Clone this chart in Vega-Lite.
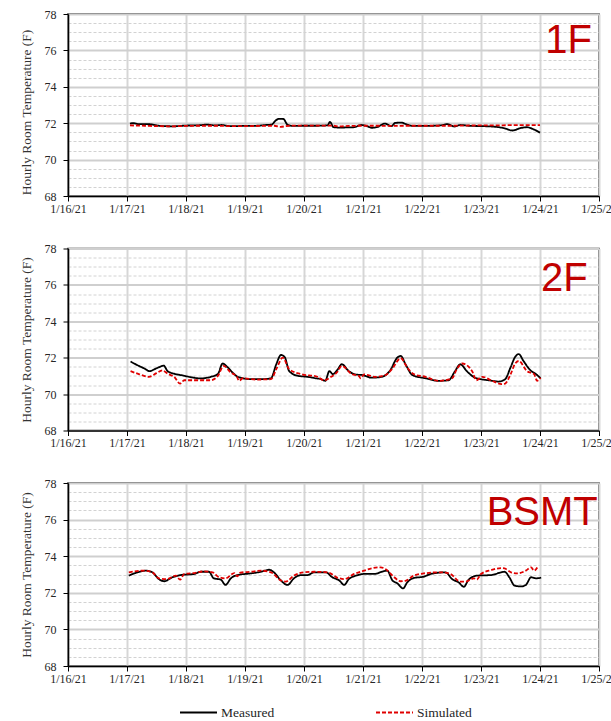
{
  "$schema": "https://vega.github.io/schema/vega-lite/v6.json",
  "background": "white",
  "padding": {"left": 18, "top": 7, "right": 0, "bottom": 0},
  "bounds": "flush",
  "spacing": 52.5,
  "resolve": {"legend": {"color": "independent", "strokeDash": "independent"}},
  "config": {
    "font": "Liberation Serif",
    "view": {"stroke": "#262626", "strokeWidth": 1.5},
    "axis": {
      "domainColor": "#000000", "domainWidth": 1.5,
      "tickColor": "#000000", "tickWidth": 1, "tickSize": 5,
      "labelFont": "Liberation Serif", "labelFontSize": 12, "labelColor": "#262626",
      "titleFont": "Liberation Serif", "titleFontSize": 13.5, "titleFontWeight": "normal", "titleColor": "#333333",
      "labelFlush": false, "labelOverlap": false
    }
  },
  "datasets": {
    "f1": [
      {"day":17.05,"series":"Measured","temp":71.98},{"day":17.1,"series":"Measured","temp":72.0},{"day":17.2,"series":"Measured","temp":71.95},{"day":17.4,"series":"Measured","temp":71.94},{"day":17.5,"series":"Measured","temp":71.88},{"day":17.6,"series":"Measured","temp":71.84},{"day":17.8,"series":"Measured","temp":71.83},{"day":18.0,"series":"Measured","temp":71.87},{"day":18.2,"series":"Measured","temp":71.88},{"day":18.35,"series":"Measured","temp":71.92},{"day":18.5,"series":"Measured","temp":71.88},{"day":18.6,"series":"Measured","temp":71.9},{"day":18.75,"series":"Measured","temp":71.84},{"day":19.0,"series":"Measured","temp":71.85},{"day":19.2,"series":"Measured","temp":71.86},{"day":19.35,"series":"Measured","temp":71.9},{"day":19.45,"series":"Measured","temp":71.92},{"day":19.52,"series":"Measured","temp":72.15},{"day":19.58,"series":"Measured","temp":72.24},{"day":19.65,"series":"Measured","temp":72.23},{"day":19.72,"series":"Measured","temp":71.92},{"day":19.8,"series":"Measured","temp":71.85},{"day":20.0,"series":"Measured","temp":71.86},{"day":20.2,"series":"Measured","temp":71.86},{"day":20.4,"series":"Measured","temp":71.88},{"day":20.44,"series":"Measured","temp":72.07},{"day":20.5,"series":"Measured","temp":71.78},{"day":20.6,"series":"Measured","temp":71.76},{"day":20.75,"series":"Measured","temp":71.77},{"day":20.85,"series":"Measured","temp":71.78},{"day":20.97,"series":"Measured","temp":71.9},{"day":21.05,"series":"Measured","temp":71.86},{"day":21.15,"series":"Measured","temp":71.75},{"day":21.25,"series":"Measured","temp":71.8},{"day":21.37,"series":"Measured","temp":71.98},{"day":21.48,"series":"Measured","temp":71.84},{"day":21.55,"series":"Measured","temp":72.02},{"day":21.65,"series":"Measured","temp":72.03},{"day":21.75,"series":"Measured","temp":71.92},{"day":21.85,"series":"Measured","temp":71.85},{"day":22.0,"series":"Measured","temp":71.85},{"day":22.2,"series":"Measured","temp":71.86},{"day":22.35,"series":"Measured","temp":71.9},{"day":22.43,"series":"Measured","temp":71.95},{"day":22.55,"series":"Measured","temp":71.82},{"day":22.65,"series":"Measured","temp":71.9},{"day":22.8,"series":"Measured","temp":71.86},{"day":23.0,"series":"Measured","temp":71.84},{"day":23.17,"series":"Measured","temp":71.82},{"day":23.3,"series":"Measured","temp":71.78},{"day":23.4,"series":"Measured","temp":71.72},{"day":23.53,"series":"Measured","temp":71.6},{"day":23.68,"series":"Measured","temp":71.74},{"day":23.78,"series":"Measured","temp":71.78},{"day":23.88,"series":"Measured","temp":71.68},{"day":24.0,"series":"Measured","temp":71.48},
      {"day":17.05,"series":"Simulated","temp":71.88},{"day":17.3,"series":"Simulated","temp":71.86},{"day":17.5,"series":"Simulated","temp":71.84},{"day":17.75,"series":"Simulated","temp":71.83},{"day":18.0,"series":"Simulated","temp":71.85},{"day":18.25,"series":"Simulated","temp":71.86},{"day":18.5,"series":"Simulated","temp":71.86},{"day":18.75,"series":"Simulated","temp":71.84},{"day":19.0,"series":"Simulated","temp":71.84},{"day":19.25,"series":"Simulated","temp":71.85},{"day":19.5,"series":"Simulated","temp":71.86},{"day":19.6,"series":"Simulated","temp":71.8},{"day":19.75,"series":"Simulated","temp":71.86},{"day":20.0,"series":"Simulated","temp":71.87},{"day":20.25,"series":"Simulated","temp":71.87},{"day":20.5,"series":"Simulated","temp":71.86},{"day":20.6,"series":"Simulated","temp":71.82},{"day":20.75,"series":"Simulated","temp":71.85},{"day":21.0,"series":"Simulated","temp":71.86},{"day":21.25,"series":"Simulated","temp":71.86},{"day":21.5,"series":"Simulated","temp":71.85},{"day":21.75,"series":"Simulated","temp":71.86},{"day":22.0,"series":"Simulated","temp":71.86},{"day":22.25,"series":"Simulated","temp":71.86},{"day":22.5,"series":"Simulated","temp":71.86},{"day":22.75,"series":"Simulated","temp":71.87},{"day":23.0,"series":"Simulated","temp":71.88},{"day":23.25,"series":"Simulated","temp":71.88},{"day":23.5,"series":"Simulated","temp":71.89},{"day":23.75,"series":"Simulated","temp":71.89},{"day":24.0,"series":"Simulated","temp":71.89}
    ],
    "f2": [
      {"day":17.06,"series":"Measured","temp":71.79},{"day":17.2,"series":"Measured","temp":71.55},{"day":17.3,"series":"Measured","temp":71.4},{"day":17.38,"series":"Measured","temp":71.26},{"day":17.5,"series":"Measured","temp":71.42},{"day":17.56,"series":"Measured","temp":71.5},{"day":17.62,"series":"Measured","temp":71.57},{"day":17.69,"series":"Measured","temp":71.26},{"day":17.8,"series":"Measured","temp":71.12},{"day":17.92,"series":"Measured","temp":71.04},{"day":18.1,"series":"Measured","temp":70.92},{"day":18.25,"series":"Measured","temp":70.86},{"day":18.42,"series":"Measured","temp":70.95},{"day":18.54,"series":"Measured","temp":71.1},{"day":18.62,"series":"Measured","temp":71.68},{"day":18.71,"series":"Measured","temp":71.46},{"day":18.8,"series":"Measured","temp":71.15},{"day":18.88,"series":"Measured","temp":70.95},{"day":19.1,"series":"Measured","temp":70.82},{"day":19.3,"series":"Measured","temp":70.82},{"day":19.44,"series":"Measured","temp":70.87},{"day":19.53,"series":"Measured","temp":71.64},{"day":19.61,"series":"Measured","temp":72.15},{"day":19.67,"series":"Measured","temp":72.05},{"day":19.75,"series":"Measured","temp":71.26},{"day":19.9,"series":"Measured","temp":71.0},{"day":20.06,"series":"Measured","temp":70.95},{"day":20.2,"series":"Measured","temp":70.87},{"day":20.29,"series":"Measured","temp":70.82},{"day":20.36,"series":"Measured","temp":70.73},{"day":20.43,"series":"Measured","temp":71.26},{"day":20.49,"series":"Measured","temp":71.1},{"day":20.57,"series":"Measured","temp":71.35},{"day":20.64,"series":"Measured","temp":71.64},{"day":20.76,"series":"Measured","temp":71.26},{"day":20.87,"series":"Measured","temp":71.08},{"day":21.0,"series":"Measured","temp":71.04},{"day":21.15,"series":"Measured","temp":70.9},{"day":21.32,"series":"Measured","temp":70.95},{"day":21.46,"series":"Measured","temp":71.3},{"day":21.58,"series":"Measured","temp":72.0},{"day":21.64,"series":"Measured","temp":72.1},{"day":21.72,"series":"Measured","temp":71.64},{"day":21.84,"series":"Measured","temp":71.04},{"day":22.06,"series":"Measured","temp":70.87},{"day":22.28,"series":"Measured","temp":70.73},{"day":22.45,"series":"Measured","temp":70.76},{"day":22.56,"series":"Measured","temp":71.26},{"day":22.65,"series":"Measured","temp":71.64},{"day":22.76,"series":"Measured","temp":71.26},{"day":22.9,"series":"Measured","temp":70.9},{"day":23.13,"series":"Measured","temp":70.76},{"day":23.3,"series":"Measured","temp":70.69},{"day":23.41,"series":"Measured","temp":70.82},{"day":23.5,"series":"Measured","temp":71.46},{"day":23.58,"series":"Measured","temp":72.05},{"day":23.64,"series":"Measured","temp":72.2},{"day":23.72,"series":"Measured","temp":71.82},{"day":23.84,"series":"Measured","temp":71.3},{"day":23.93,"series":"Measured","temp":71.1},{"day":24.01,"series":"Measured","temp":70.87},
      {"day":17.06,"series":"Simulated","temp":71.26},{"day":17.2,"series":"Simulated","temp":71.1},{"day":17.37,"series":"Simulated","temp":70.95},{"day":17.5,"series":"Simulated","temp":71.15},{"day":17.6,"series":"Simulated","temp":71.3},{"day":17.7,"series":"Simulated","temp":71.1},{"day":17.8,"series":"Simulated","temp":70.95},{"day":17.9,"series":"Simulated","temp":70.58},{"day":17.97,"series":"Simulated","temp":70.76},{"day":18.2,"series":"Simulated","temp":70.76},{"day":18.42,"series":"Simulated","temp":70.76},{"day":18.54,"series":"Simulated","temp":71.0},{"day":18.64,"series":"Simulated","temp":71.55},{"day":18.76,"series":"Simulated","temp":71.18},{"day":18.86,"series":"Simulated","temp":70.97},{"day":18.9,"series":"Simulated","temp":70.73},{"day":18.96,"series":"Simulated","temp":70.87},{"day":19.2,"series":"Simulated","temp":70.8},{"day":19.44,"series":"Simulated","temp":70.82},{"day":19.53,"series":"Simulated","temp":71.37},{"day":19.64,"series":"Simulated","temp":72.0},{"day":19.75,"series":"Simulated","temp":71.37},{"day":19.95,"series":"Simulated","temp":71.1},{"day":20.23,"series":"Simulated","temp":70.95},{"day":20.34,"series":"Simulated","temp":70.76},{"day":20.46,"series":"Simulated","temp":70.95},{"day":20.56,"series":"Simulated","temp":71.2},{"day":20.64,"series":"Simulated","temp":71.55},{"day":20.81,"series":"Simulated","temp":71.1},{"day":20.93,"series":"Simulated","temp":71.0},{"day":20.96,"series":"Simulated","temp":70.87},{"day":21.02,"series":"Simulated","temp":71.08},{"day":21.21,"series":"Simulated","temp":70.95},{"day":21.38,"series":"Simulated","temp":71.04},{"day":21.49,"series":"Simulated","temp":71.37},{"day":21.64,"series":"Simulated","temp":71.97},{"day":21.75,"series":"Simulated","temp":71.46},{"day":21.87,"series":"Simulated","temp":71.08},{"day":22.06,"series":"Simulated","temp":70.95},{"day":22.28,"series":"Simulated","temp":70.73},{"day":22.51,"series":"Simulated","temp":70.87},{"day":22.59,"series":"Simulated","temp":71.37},{"day":22.68,"series":"Simulated","temp":71.68},{"day":22.85,"series":"Simulated","temp":71.26},{"day":22.92,"series":"Simulated","temp":70.76},{"day":23.02,"series":"Simulated","temp":70.95},{"day":23.19,"series":"Simulated","temp":70.73},{"day":23.35,"series":"Simulated","temp":70.55},{"day":23.41,"series":"Simulated","temp":70.58},{"day":23.5,"series":"Simulated","temp":71.08},{"day":23.58,"series":"Simulated","temp":71.68},{"day":23.64,"series":"Simulated","temp":71.82},{"day":23.78,"series":"Simulated","temp":71.26},{"day":23.9,"series":"Simulated","temp":71.1},{"day":23.95,"series":"Simulated","temp":70.73},{"day":24.01,"series":"Simulated","temp":70.9}
    ],
    "bsmt": [
      {"day":17.03,"series":"Measured","temp":72.94},{"day":17.18,"series":"Measured","temp":73.12},{"day":17.32,"series":"Measured","temp":73.21},{"day":17.43,"series":"Measured","temp":73.12},{"day":17.54,"series":"Measured","temp":72.75},{"day":17.63,"series":"Measured","temp":72.63},{"day":17.77,"series":"Measured","temp":72.85},{"day":17.91,"series":"Measured","temp":72.97},{"day":18.14,"series":"Measured","temp":73.03},{"day":18.25,"series":"Measured","temp":73.15},{"day":18.39,"series":"Measured","temp":73.15},{"day":18.47,"series":"Measured","temp":72.79},{"day":18.59,"series":"Measured","temp":72.72},{"day":18.67,"series":"Measured","temp":72.43},{"day":18.76,"series":"Measured","temp":72.79},{"day":18.87,"series":"Measured","temp":72.97},{"day":19.1,"series":"Measured","temp":73.06},{"day":19.27,"series":"Measured","temp":73.15},{"day":19.41,"series":"Measured","temp":73.26},{"day":19.49,"series":"Measured","temp":73.12},{"day":19.61,"series":"Measured","temp":72.67},{"day":19.72,"series":"Measured","temp":72.43},{"day":19.83,"series":"Measured","temp":72.79},{"day":19.95,"series":"Measured","temp":72.97},{"day":20.06,"series":"Measured","temp":72.97},{"day":20.17,"series":"Measured","temp":73.12},{"day":20.37,"series":"Measured","temp":73.12},{"day":20.48,"series":"Measured","temp":72.85},{"day":20.6,"series":"Measured","temp":72.67},{"day":20.68,"series":"Measured","temp":72.43},{"day":20.76,"series":"Measured","temp":72.75},{"day":20.88,"series":"Measured","temp":72.94},{"day":21.02,"series":"Measured","temp":73.03},{"day":21.19,"series":"Measured","temp":73.03},{"day":21.36,"series":"Measured","temp":73.19},{"day":21.41,"series":"Measured","temp":73.21},{"day":21.5,"series":"Measured","temp":72.67},{"day":21.58,"series":"Measured","temp":72.52},{"day":21.68,"series":"Measured","temp":72.24},{"day":21.75,"series":"Measured","temp":72.57},{"day":21.86,"series":"Measured","temp":72.81},{"day":22.03,"series":"Measured","temp":72.88},{"day":22.15,"series":"Measured","temp":73.03},{"day":22.4,"series":"Measured","temp":73.12},{"day":22.51,"series":"Measured","temp":72.75},{"day":22.62,"series":"Measured","temp":72.57},{"day":22.71,"series":"Measured","temp":72.33},{"day":22.79,"series":"Measured","temp":72.72},{"day":22.94,"series":"Measured","temp":72.94},{"day":23.17,"series":"Measured","temp":72.97},{"day":23.4,"series":"Measured","temp":73.15},{"day":23.48,"series":"Measured","temp":72.85},{"day":23.57,"series":"Measured","temp":72.39},{"day":23.68,"series":"Measured","temp":72.35},{"day":23.76,"series":"Measured","temp":72.43},{"day":23.85,"series":"Measured","temp":72.85},{"day":23.93,"series":"Measured","temp":72.79},{"day":24.02,"series":"Measured","temp":72.83},
      {"day":17.03,"series":"Simulated","temp":73.12},{"day":17.29,"series":"Simulated","temp":73.21},{"day":17.43,"series":"Simulated","temp":73.12},{"day":17.54,"series":"Simulated","temp":72.79},{"day":17.68,"series":"Simulated","temp":72.75},{"day":17.83,"series":"Simulated","temp":72.94},{"day":17.9,"series":"Simulated","temp":72.72},{"day":17.97,"series":"Simulated","temp":73.03},{"day":18.14,"series":"Simulated","temp":73.08},{"day":18.31,"series":"Simulated","temp":73.17},{"day":18.45,"series":"Simulated","temp":73.12},{"day":18.56,"series":"Simulated","temp":72.85},{"day":18.67,"series":"Simulated","temp":72.79},{"day":18.82,"series":"Simulated","temp":73.08},{"day":18.87,"series":"Simulated","temp":72.9},{"day":18.92,"series":"Simulated","temp":73.1},{"day":19.1,"series":"Simulated","temp":73.15},{"day":19.27,"series":"Simulated","temp":73.21},{"day":19.44,"series":"Simulated","temp":73.12},{"day":19.61,"series":"Simulated","temp":72.67},{"day":19.69,"series":"Simulated","temp":72.61},{"day":19.83,"series":"Simulated","temp":72.94},{"day":20.0,"series":"Simulated","temp":73.12},{"day":20.17,"series":"Simulated","temp":73.15},{"day":20.4,"series":"Simulated","temp":73.12},{"day":20.57,"series":"Simulated","temp":72.82},{"day":20.68,"series":"Simulated","temp":72.75},{"day":20.85,"series":"Simulated","temp":73.03},{"day":21.02,"series":"Simulated","temp":73.21},{"day":21.16,"series":"Simulated","temp":73.35},{"day":21.3,"series":"Simulated","temp":73.39},{"day":21.38,"series":"Simulated","temp":73.3},{"day":21.5,"series":"Simulated","temp":72.94},{"day":21.64,"series":"Simulated","temp":72.63},{"day":21.73,"series":"Simulated","temp":72.67},{"day":21.86,"series":"Simulated","temp":72.94},{"day":22.03,"series":"Simulated","temp":73.06},{"day":22.31,"series":"Simulated","temp":73.12},{"day":22.48,"series":"Simulated","temp":73.03},{"day":22.65,"series":"Simulated","temp":72.61},{"day":22.74,"series":"Simulated","temp":72.61},{"day":22.88,"series":"Simulated","temp":72.79},{"day":22.93,"series":"Simulated","temp":72.72},{"day":23.0,"series":"Simulated","temp":73.03},{"day":23.17,"series":"Simulated","temp":73.24},{"day":23.34,"series":"Simulated","temp":73.35},{"day":23.4,"series":"Simulated","temp":73.33},{"day":23.51,"series":"Simulated","temp":73.12},{"day":23.62,"series":"Simulated","temp":73.06},{"day":23.76,"series":"Simulated","temp":73.21},{"day":23.85,"series":"Simulated","temp":73.39},{"day":23.9,"series":"Simulated","temp":73.21},{"day":23.97,"series":"Simulated","temp":73.48}
    ]
  },
  "vconcat": [
    {
      "width": 531, "height": 182,
      "layer": [
        {
          "data": {"name": "f1"},
          "mark": {"type": "line", "strokeWidth": 1.8, "interpolate": "monotone"},
          "encoding": {
            "x": {"field": "day", "type": "quantitative", "scale": {"domain": [16, 25], "zero": false, "nice": false},
                  "axis": {"title": null, "values": [16,17,18,19,20,21,22,23,24,25], "tickCount": 20, "labelExpr": "'1/' + datum.value + '/21'", "grid": true, "gridColor": "#d6d6d6", "gridWidth": 2, "labelPadding": 2}},
            "y": {"field": "temp", "type": "quantitative", "scale": {"domain": [68, 78], "zero": false, "nice": false},
                  "axis": {"title": "Hourly Room Temperature (F)", "titleY": 98, "values": [68,68.5,69,69.5,70,70.5,71,71.5,72,72.5,73,73.5,74,74.5,75,75.5,76,76.5,77,77.5,78], "tickCount": 30,
                           "labelExpr": "datum.value % 2 === 0 ? '' + datum.value : ''", "labelPadding": 7, "titlePadding": 11,
                           "tickOpacity": {"condition": {"test": "datum.value % 2 === 0", "value": 1}, "value": 0},
                           "gridDash": {"condition": {"test": "datum.value % 2 === 0", "value": [1, 0]}, "value": [3, 2]},
                           "gridColor": {"condition": {"test": "datum.value % 2 === 0", "value": "#cfcfcf"}, "value": "#d2d2d2"},
                           "gridWidth": {"condition": {"test": "datum.value % 2 === 0", "value": 2}, "value": 1}}},
            "color": {"field": "series", "type": "nominal", "scale": {"domain": ["Measured", "Simulated"], "range": ["#000000", "#e00000"]}, "legend": null},
            "strokeDash": {"field": "series", "type": "nominal", "scale": {"domain": ["Measured", "Simulated"], "range": [[1, 0], [4, 2]]}, "legend": null}
          }
        },
        {
          "data": {"values": [{"label": "1F"}]},
          "mark": {"type": "text", "align": "right", "baseline": "top", "font": "Liberation Sans", "fontSize": 40, "color": "#C00000"},
          "encoding": {"x": {"datum": 24.88, "type": "quantitative"}, "y": {"datum": 77.62, "type": "quantitative"}, "text": {"field": "label"}}
        }
      ]
    },
    {
      "width": 531, "height": 182,
      "layer": [
        {
          "data": {"name": "f2"},
          "mark": {"type": "line", "strokeWidth": 1.8, "interpolate": "monotone"},
          "encoding": {
            "x": {"field": "day", "type": "quantitative", "scale": {"domain": [16, 25], "zero": false, "nice": false},
                  "axis": {"title": null, "values": [16,17,18,19,20,21,22,23,24,25], "tickCount": 20, "labelExpr": "'1/' + datum.value + '/21'", "grid": true, "gridColor": "#d6d6d6", "gridWidth": 2, "labelPadding": 2}},
            "y": {"field": "temp", "type": "quantitative", "scale": {"domain": [68, 78], "zero": false, "nice": false},
                  "axis": {"title": "Hourly Room Temperature (F)", "values": [68,68.5,69,69.5,70,70.5,71,71.5,72,72.5,73,73.5,74,74.5,75,75.5,76,76.5,77,77.5,78], "tickCount": 30,
                           "labelExpr": "datum.value % 2 === 0 ? '' + datum.value : ''", "labelPadding": 7, "titlePadding": 11,
                           "tickOpacity": {"condition": {"test": "datum.value % 2 === 0", "value": 1}, "value": 0},
                           "gridDash": {"condition": {"test": "datum.value % 2 === 0", "value": [1, 0]}, "value": [3, 2]},
                           "gridColor": {"condition": {"test": "datum.value % 2 === 0", "value": "#cfcfcf"}, "value": "#d2d2d2"},
                           "gridWidth": {"condition": {"test": "datum.value % 2 === 0", "value": 2}, "value": 1}}},
            "color": {"field": "series", "type": "nominal", "scale": {"domain": ["Measured", "Simulated"], "range": ["#000000", "#e00000"]}, "legend": null},
            "strokeDash": {"field": "series", "type": "nominal", "scale": {"domain": ["Measured", "Simulated"], "range": [[1, 0], [4, 2]]}, "legend": null}
          }
        },
        {
          "data": {"values": [{"label": "2F"}]},
          "mark": {"type": "text", "align": "right", "baseline": "top", "font": "Liberation Sans", "fontSize": 40, "color": "#C00000"},
          "encoding": {"x": {"datum": 24.81, "type": "quantitative"}, "y": {"datum": 77.4, "type": "quantitative"}, "text": {"field": "label"}}
        }
      ]
    },
    {
      "width": 531, "height": 183,
      "layer": [
        {
          "data": {"name": "bsmt"},
          "mark": {"type": "line", "strokeWidth": 1.8, "interpolate": "monotone"},
          "encoding": {
            "x": {"field": "day", "type": "quantitative", "scale": {"domain": [16, 25], "zero": false, "nice": false},
                  "axis": {"title": null, "values": [16,17,18,19,20,21,22,23,24,25], "tickCount": 20, "labelExpr": "'1/' + datum.value + '/21'", "grid": true, "gridColor": "#d6d6d6", "gridWidth": 2, "labelPadding": 2}},
            "y": {"field": "temp", "type": "quantitative", "scale": {"domain": [68, 78], "zero": false, "nice": false},
                  "axis": {"title": "Hourly Room Temperature (F)", "values": [68,68.5,69,69.5,70,70.5,71,71.5,72,72.5,73,73.5,74,74.5,75,75.5,76,76.5,77,77.5,78], "tickCount": 30,
                           "labelExpr": "datum.value % 2 === 0 ? '' + datum.value : ''", "labelPadding": 7, "titlePadding": 11,
                           "tickOpacity": {"condition": {"test": "datum.value % 2 === 0", "value": 1}, "value": 0},
                           "gridDash": {"condition": {"test": "datum.value % 2 === 0", "value": [1, 0]}, "value": [3, 2]},
                           "gridColor": {"condition": {"test": "datum.value % 2 === 0", "value": "#cfcfcf"}, "value": "#d2d2d2"},
                           "gridWidth": {"condition": {"test": "datum.value % 2 === 0", "value": 2}, "value": 1}}},
            "color": {"field": "series", "type": "nominal", "scale": {"domain": ["Measured", "Simulated"], "range": ["#000000", "#e00000"]},
                      "legend": {"title": null, "orient": "none", "legendX": 111, "legendY": 210, "direction": "horizontal", "symbolType": "stroke", "symbolSize": 1369, "symbolStrokeWidth": 1.8, "labelFont": "Liberation Serif", "labelFontSize": 13.5, "labelColor": "#262626", "columnPadding": 97, "labelOffset": 3}},
            "strokeDash": {"field": "series", "type": "nominal", "scale": {"domain": ["Measured", "Simulated"], "range": [[1, 0], [4, 2]]},
                      "legend": {"title": null, "orient": "none", "legendX": 111, "legendY": 210, "direction": "horizontal", "symbolType": "stroke", "symbolSize": 1369, "symbolStrokeWidth": 1.8, "labelFont": "Liberation Serif", "labelFontSize": 13.5, "labelColor": "#262626", "columnPadding": 97, "labelOffset": 3}}
          }
        },
        {
          "data": {"values": [{"label": "BSMT"}]},
          "mark": {"type": "text", "align": "right", "baseline": "top", "font": "Liberation Sans", "fontSize": 40, "color": "#C00000"},
          "encoding": {"x": {"datum": 24.98, "type": "quantitative"}, "y": {"datum": 77.45, "type": "quantitative"}, "text": {"field": "label"}}
        }
      ]
    }
  ]
}
